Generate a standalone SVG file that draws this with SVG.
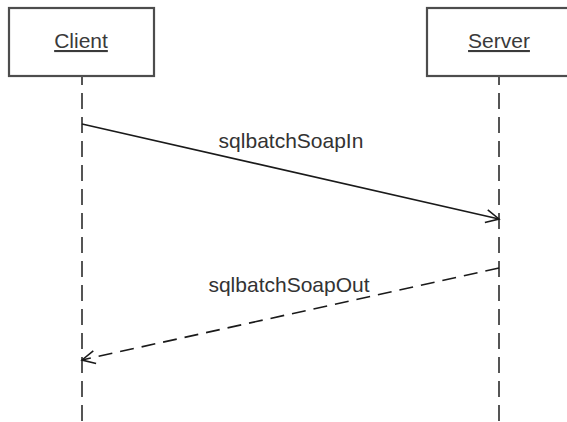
<svg xmlns="http://www.w3.org/2000/svg" width="567" height="422" viewBox="0 0 567 422">
<style>
.box{fill:#fff;stroke:#4d4d4d;stroke-width:2.2}
.life{stroke:#555;stroke-width:2;stroke-dasharray:16 8;stroke-dashoffset:7;fill:none}
.title{font-family:"Liberation Sans",Arial,sans-serif;font-size:21px;fill:#3a3a3a;text-anchor:middle;text-decoration:underline}
.msg{stroke:#1a1a1a;stroke-width:1.6;fill:none}
.dash{stroke-dasharray:14 8}
.lbl{font-family:"Liberation Sans",Arial,sans-serif;font-size:21px;fill:#333;text-anchor:middle;stroke:#fff;stroke-width:2;paint-order:stroke}
</style>
<defs>
<marker id="open" markerUnits="userSpaceOnUse" viewBox="-15 -9 17 18" markerWidth="17" markerHeight="18" refX="0" refY="0" orient="auto">
<path d="M-13,-6.5 L0,0 L-13,6.5" fill="none" stroke="#1a1a1a" stroke-width="1.6"/>
</marker>
</defs>
<g id="client">
<rect class="box" x="9" y="8" width="145" height="68"/>
<text class="title" x="81" y="48">Client</text>
<line class="life" x1="82" y1="76" x2="82" y2="422"/>
</g>
<g id="server">
<rect class="box" x="427" y="8" width="145" height="68"/>
<text class="title" x="499" y="48">Server</text>
<line class="life" x1="499" y1="76" x2="499" y2="422"/>
</g>
<g id="connectors">
<line class="msg" x1="82" y1="124" x2="499" y2="219" marker-end="url(#open)"/>
<text class="lbl" x="291" y="148">sqlbatchSoapIn</text>
<line class="msg dash" x1="499" y1="268" x2="82" y2="360" marker-end="url(#open)"/>
<text class="lbl" x="289" y="292">sqlbatchSoapOut</text>
</g>
</svg>
